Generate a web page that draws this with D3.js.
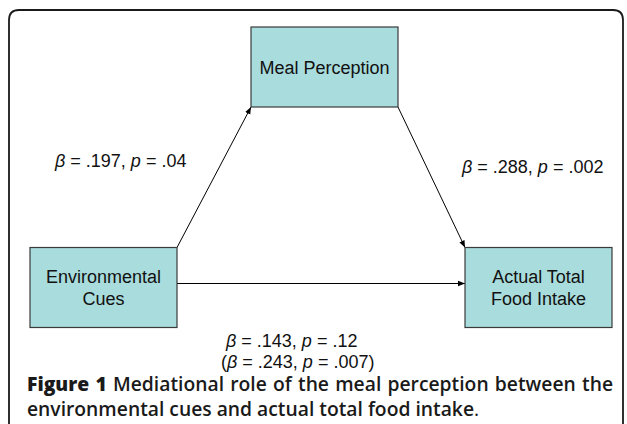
<!DOCTYPE html>
<html>
<head>
<meta charset="utf-8">
<script src="https://cdn.jsdelivr.net/npm/d3@7"></script>
<style>
  body { margin: 0; background: #fff; }
  svg { display: block; }
</style>
</head>
<body>
<svg width="627" height="424"></svg>
<script>
// Diagram content
const nodeNames = ["Environmental\nCues", "Meal Perception", "Actual Total\nFood Intake"];
const nodeCols = [0, 1, 2];
const nodeRows = [1, 0, 1];

const edgeFrom = [0, 1, 0];
const edgeTo = [1, 2, 2];
const edgeLabels = [
  ["β = .197, p = .04"],
  ["β = .288, p = .002"],
  ["β = .143, p = .12", "(β = .243, p = .007)"]
];

const captionBold = "Figure 1";
const captionLines = [
  " Mediational role of the meal perception between the",
  "environmental cues and actual total food intake"
];

const svg = d3.select("svg"),
  width = +svg.attr("width"),
  height = +svg.attr("height");

// Layout scales (box centres)
const x = d3.scaleLinear().domain([0, 1, 2]).range([103.5, 324.5, 538.5]);
const y = d3.scaleLinear().domain([0, 1]).range([67, 287.5]);
const boxW = 147, boxH = 80;

// Outer frame, open at the bottom
const r = 10;
svg.append("path")
  .attr("d", `M9,${height + 5} V${10 + r} Q9,10 ${9 + r},10 H${623 - r} Q623,10 623,${10 + r} V${height + 5}`)
  .attr("fill", "none")
  .attr("stroke", "#1a1a1a")
  .attr("stroke-width", 1.8);

// Arrow head
svg.append("defs").append("marker")
  .attr("id", "arrow")
  .attr("viewBox", "0 0 10 10")
  .attr("refX", 10).attr("refY", 5)
  .attr("markerWidth", 7).attr("markerHeight", 7)
  .attr("markerUnits", "userSpaceOnUse")
  .attr("orient", "auto")
  .append("path")
  .attr("d", "M0,1 L10,5 L0,9 Z")
  .attr("fill", "#000");

const nodes = nodeNames.map((name, i) => ({
  name: name,
  cx: x(nodeCols[i]),
  cy: y(nodeRows[i])
}));

// edge end points: corners for diagonals, side midpoints for the straight one
function endPoints(a, b) {
  if (a.cy === b.cy) {
    const dir = Math.sign(b.cx - a.cx);
    return [[a.cx + dir * boxW / 2, a.cy - 4], [b.cx - dir * boxW / 2, b.cy - 4]];
  }
  const dx = Math.sign(b.cx - a.cx), dy = Math.sign(b.cy - a.cy);
  return [[a.cx + dx * boxW / 2, a.cy + dy * boxH / 2], [b.cx - dx * boxW / 2, b.cy - dy * boxH / 2]];
}

svg.append("g")
  .selectAll("line")
  .data(edgeFrom.map((f, i) => endPoints(nodes[f], nodes[edgeTo[i]])))
  .enter()
  .append("line")
  .attr("x1", d => d[0][0]).attr("y1", d => d[0][1])
  .attr("x2", d => d[1][0]).attr("y2", d => d[1][1])
  .attr("stroke", "#000")
  .attr("stroke-width", 1)
  .attr("marker-end", "url(#arrow)");

// Boxes
const box = svg.append("g")
  .selectAll("g")
  .data(nodes)
  .enter()
  .append("g")
  .attr("transform", d => `translate(${d.cx},${d.cy})`);

box.append("rect")
  .attr("x", -boxW / 2).attr("y", -boxH / 2)
  .attr("width", boxW).attr("height", boxH)
  .attr("fill", "#a9dcdc")
  .attr("stroke", "#3a3a3a")
  .attr("stroke-width", 1.2);

box.append("text")
  .attr("text-anchor", "middle")
  .style("font-family", "'Liberation Sans', Arial, sans-serif")
  .style("font-size", "18px")
  .attr("fill", "#111")
  .each(function(d) {
    const lines = d.name.split("\n");
    const t = d3.select(this);
    lines.forEach((l, k) => {
      t.append("tspan")
        .attr("x", 0)
        .attr("y", 6.5 + (k - (lines.length - 1) / 2) * 22)
        .text(l);
    });
  });

// Path coefficients
const labelPos = [[55, 167], [462, 173], [226, 347]];
const labelStep = 20.5;

function addItalics(sel, str) {
  str.split(/(β|\bp\b)/).forEach(part => {
    if (!part) return;
    const ts = sel.append("tspan").text(part);
    if (part === "β" || part === "p") ts.style("font-style", "italic");
  });
}

edgeLabels.forEach((lines, i) => {
  lines.forEach((line, k) => {
    const t = svg.append("text")
      .attr("x", labelPos[i][0] - (line.startsWith("(") ? 5 : 0))
      .attr("y", labelPos[i][1] + k * labelStep)
      .style("font-family", "'Liberation Sans', Arial, sans-serif")
      .style("font-size", "18px")
      .attr("fill", "#111");
    addItalics(t, line);
  });
});

// Caption (first line justified through word spacing)
const capFont = sel => sel
  .style("font-family", "'Open Sans', sans-serif")
  .style("font-size", "19.3px")
  .style("font-weight", 600)
  .attr("fill", "#1a1a1a");

const cap1 = svg.append("text")
  .attr("x", 27).attr("y", 391)
  .call(capFont);
cap1.append("tspan").style("font-weight", 800).text(captionBold);
cap1.append("tspan").text(captionLines[0]);
const natural = cap1.node().getComputedTextLength();
const spaces = (captionBold + captionLines[0]).split(" ").length - 1;
cap1.style("word-spacing", ((613 - 27 - natural) / spaces) + "px");

const cap2 = svg.append("text")
  .attr("x", 27).attr("y", 416)
  .call(capFont);
cap2.append("tspan").text(captionLines[1]);
cap2.append("tspan").style("font-weight", 400).text(".");
</script>
</body>
</html>
